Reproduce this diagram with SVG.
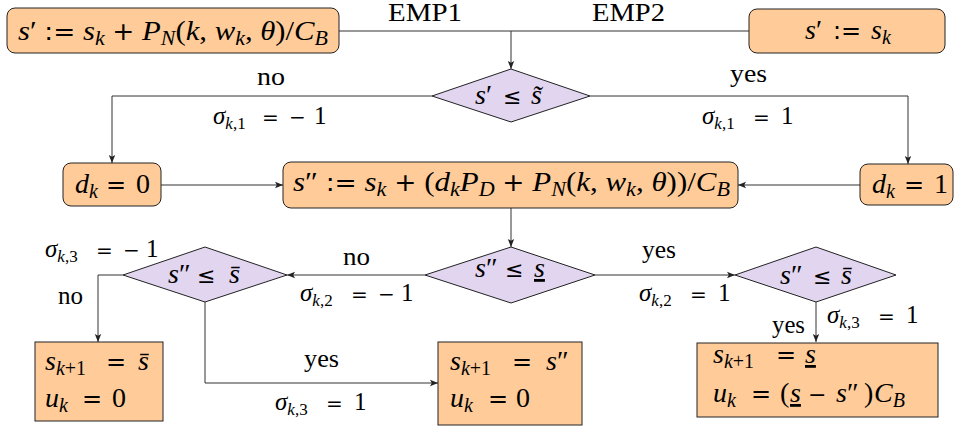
<svg xmlns="http://www.w3.org/2000/svg" width="955" height="427" viewBox="0 0 955 427">
<style>
text{font-family:"Liberation Serif","DejaVu Serif",serif;fill:#000}
.l{font-size:25px}
.m{font-size:28px}
.i{font-style:italic}
.s{font-size:20px}
.s2{font-size:17px}
.op{font-family:"DejaVu Sans",sans-serif;font-size:24px}
.opd{font-family:"DejaVu Sans",sans-serif;font-size:22px}
.opl{font-family:"DejaVu Sans",sans-serif;font-size:20px}
.box{fill:#ffcc99;stroke:#222;stroke-width:1}
.dia{fill:#e2d5f0;stroke:#222;stroke-width:1}
.c{fill:none;stroke:#333;stroke-width:1}
.ul{text-decoration:underline}
</style>
<defs>
<marker id="ah" viewBox="0 0 8 8" refX="8" refY="4" markerWidth="8" markerHeight="8" markerUnits="userSpaceOnUse" orient="auto">
<path d="M0,0.8 L8,4 L0,7.2 L1.8,4 Z" fill="#222"/>
</marker>
</defs>
<rect width="955" height="427" fill="#fff"/>

<g id="connectors">
<path class="c" d="M339,31 H749"/>
<path class="c" d="M511,31 V69" marker-end="url(#ah)"/>
<path class="c" d="M432,96 H112 V163" marker-end="url(#ah)"/>
<path class="c" d="M590,96 H908 V164" marker-end="url(#ah)"/>
<path class="c" d="M161,185 H283" marker-end="url(#ah)"/>
<path class="c" d="M860,185 H738" marker-end="url(#ah)"/>
<path class="c" d="M511,208 V247" marker-end="url(#ah)"/>
<path class="c" d="M425,275 H287" marker-end="url(#ah)"/>
<path class="c" d="M595,275 H735" marker-end="url(#ah)"/>
<path class="c" d="M123,275 H98 V342" marker-end="url(#ah)"/>
<path class="c" d="M205,302 V383 H438" marker-end="url(#ah)"/>
<path class="c" d="M816,302 V342" marker-end="url(#ah)"/>
</g>

<g id="labels">
<text class="l" x="388" y="21" textLength="74" lengthAdjust="spacingAndGlyphs">EMP1</text>
<text class="l" x="592" y="21" textLength="73" lengthAdjust="spacingAndGlyphs">EMP2</text>
<text class="l" x="257" y="85" textLength="28" lengthAdjust="spacingAndGlyphs">no</text>
<text class="l" x="730" y="82" textLength="37" lengthAdjust="spacingAndGlyphs">yes</text>
<text class="l" x="343" y="265" textLength="27" lengthAdjust="spacingAndGlyphs">no</text>
<text class="l" x="58" y="304" textLength="25" lengthAdjust="spacingAndGlyphs">no</text>
<text class="l" x="304" y="367" textLength="35" lengthAdjust="spacingAndGlyphs">yes</text>
<text class="l" x="642" y="258" textLength="34" lengthAdjust="spacingAndGlyphs">yes</text>
<text class="l" x="772" y="333" textLength="33" lengthAdjust="spacingAndGlyphs">yes</text>
<text class="l" x="213" y="124"><tspan class="i">σ</tspan><tspan class="s2" dy="5"><tspan class="i">k</tspan>,1</tspan><tspan class="opl" x="262" dy="-5">=</tspan><tspan class="opl" x="289">−</tspan><tspan x="314">1</tspan></text>
<text class="l" x="702" y="124"><tspan class="i">σ</tspan><tspan class="s2" dy="5"><tspan class="i">k</tspan>,1</tspan><tspan class="opl" x="753" dy="-5">=</tspan><tspan x="781">1</tspan></text>
<text class="l" x="300" y="301"><tspan class="i">σ</tspan><tspan class="s2" dy="5"><tspan class="i">k</tspan>,2</tspan><tspan class="opl" x="351" dy="-5">=</tspan><tspan class="opl" x="378">−</tspan><tspan x="401">1</tspan></text>
<text class="l" x="45" y="257"><tspan class="i">σ</tspan><tspan class="s2" dy="5"><tspan class="i">k</tspan>,3</tspan><tspan class="opl" x="96" dy="-5">=</tspan><tspan class="opl" x="123">−</tspan><tspan x="146">1</tspan></text>
<text class="l" x="275" y="410"><tspan class="i">σ</tspan><tspan class="s2" dy="5"><tspan class="i">k</tspan>,3</tspan><tspan class="opl" x="326" dy="-5">=</tspan><tspan x="354">1</tspan></text>
<text class="l" x="639" y="301"><tspan class="i">σ</tspan><tspan class="s2" dy="5"><tspan class="i">k</tspan>,2</tspan><tspan class="opl" x="690" dy="-5">=</tspan><tspan x="718">1</tspan></text>
<text class="l" x="827" y="323"><tspan class="i">σ</tspan><tspan class="s2" dy="5"><tspan class="i">k</tspan>,3</tspan><tspan class="opl" x="878" dy="-5">=</tspan><tspan x="906">1</tspan></text>
</g>

<g id="n-sprime-emp1">
<rect class="box" x="7" y="8" width="332" height="45" rx="8"/>
<text class="m" x="18" y="40" textLength="310" lengthAdjust="spacingAndGlyphs"><tspan class="i">s</tspan>′ <tspan class="op">:=</tspan> <tspan class="i">s</tspan><tspan class="i s" dy="5">k</tspan><tspan dy="-5"> </tspan><tspan class="op">+</tspan> <tspan class="i">P</tspan><tspan class="i s" dy="5">N</tspan><tspan dy="-5">(</tspan><tspan class="i">k</tspan>, <tspan class="i">w</tspan><tspan class="i s" dy="5">k</tspan><tspan dy="-5">, </tspan><tspan class="i">θ</tspan>)/<tspan class="i">C</tspan><tspan class="i s" dy="5">B</tspan></text>
</g>

<g id="n-sprime-emp2">
<rect class="box" x="749" y="9" width="196" height="44" rx="8"/>
<text class="m" x="805" y="39"><tspan class="i">s</tspan>′<tspan class="op" x="833">:=</tspan><tspan class="i" x="871">s</tspan><tspan class="i s" dy="5">k</tspan></text>
</g>

<g id="n-dec1">
<polygon class="dia" points="511,69 590,96 511,122 432,96"/>
<text class="m" x="475" y="104"><tspan class="i">s</tspan>′<tspan class="opd" x="503">≤</tspan><tspan class="i" x="531">s̃</tspan></text>
</g>

<g id="n-dk0">
<rect class="box" x="63" y="163" width="98" height="43" rx="8"/>
<text class="m" x="75" y="193"><tspan class="i">d</tspan><tspan class="i s" dy="5">k</tspan><tspan class="op" x="106" dy="-5">=</tspan><tspan x="136">0</tspan></text>
</g>

<g id="n-dk1">
<rect class="box" x="860" y="164" width="93" height="41" rx="8"/>
<text class="m" x="872" y="193"><tspan class="i">d</tspan><tspan class="i s" dy="5">k</tspan><tspan class="op" x="904" dy="-5">=</tspan><tspan x="934">1</tspan></text>
</g>

<g id="n-sdouble">
<rect class="box" x="283" y="162" width="455" height="46" rx="8"/>
<text class="m" x="293" y="191" textLength="437" lengthAdjust="spacingAndGlyphs"><tspan class="i">s</tspan>″ <tspan class="op">:=</tspan> <tspan class="i">s</tspan><tspan class="i s" dy="5">k</tspan><tspan dy="-5"> </tspan><tspan class="op">+</tspan> (<tspan class="i">d</tspan><tspan class="i s" dy="5">k</tspan><tspan class="i" dy="-5">P</tspan><tspan class="i s" dy="5">D</tspan><tspan dy="-5"> </tspan><tspan class="op">+</tspan> <tspan class="i">P</tspan><tspan class="i s" dy="5">N</tspan><tspan dy="-5">(</tspan><tspan class="i">k</tspan>, <tspan class="i">w</tspan><tspan class="i s" dy="5">k</tspan><tspan dy="-5">, </tspan><tspan class="i">θ</tspan>))/<tspan class="i">C</tspan><tspan class="i s" dy="5">B</tspan></text>
</g>

<g id="n-dec2">
<polygon class="dia" points="511,247 595,275 511,303 425,275"/>
<text class="m" x="475" y="277"><tspan class="i">s</tspan>″<tspan class="opd" x="505">≤</tspan><tspan class="i ul" x="534">s</tspan></text>
</g>

<g id="n-dec3">
<polygon class="dia" points="205,247 287,275 205,302 123,275"/>
<text class="m" x="168" y="283"><tspan class="i">s</tspan>″<tspan class="opd" x="197">≤</tspan><tspan class="i" x="229">s̄</tspan></text>
</g>

<g id="n-dec4">
<polygon class="dia" points="816,247 896,275 816,302 735,275"/>
<text class="m" x="780" y="284"><tspan class="i">s</tspan>″<tspan class="opd" x="813">≤</tspan><tspan class="i" x="841">s̄</tspan></text>
</g>

<g id="n-out-left">
<rect class="box" x="35" y="342" width="128" height="79"/>
<text class="m" x="45" y="370"><tspan class="i">s</tspan><tspan class="s" dy="5"><tspan class="i">k</tspan>+1</tspan><tspan class="op" x="106" dy="-5">=</tspan><tspan class="i" x="138">s̄</tspan></text>
<text class="m" x="45" y="407"><tspan class="i">u</tspan><tspan class="i s" dy="5">k</tspan><tspan class="op" x="82" dy="-5">=</tspan><tspan x="112">0</tspan></text>
</g>

<g id="n-out-mid">
<rect class="box" x="438" y="342" width="144" height="83"/>
<text class="m" x="450" y="370"><tspan class="i">s</tspan><tspan class="s" dy="5"><tspan class="i">k</tspan>+1</tspan><tspan class="op" x="512" dy="-5">=</tspan><tspan class="i" x="546">s</tspan>″</text>
<text class="m" x="450" y="407"><tspan class="i">u</tspan><tspan class="i s" dy="5">k</tspan><tspan class="op" x="488" dy="-5">=</tspan><tspan x="516">0</tspan></text>
</g>

<g id="n-out-right">
<rect class="box" x="697" y="343" width="241" height="74"/>
<text class="m" x="713" y="363"><tspan class="i">s</tspan><tspan class="s" dy="5"><tspan class="i">k</tspan>+1</tspan><tspan class="op" x="776" dy="-5">=</tspan><tspan class="i ul" x="805">s</tspan></text>
<text class="m" x="713" y="402"><tspan class="i">u</tspan><tspan class="i s" dy="5">k</tspan><tspan class="op" x="751" dy="-5">=</tspan><tspan x="780">(</tspan><tspan class="i ul" x="790">s</tspan><tspan class="opd" x="808">−</tspan><tspan class="i" x="836">s</tspan>″<tspan x="864">)</tspan><tspan class="i" x="874">C</tspan><tspan class="i s" dy="5">B</tspan></text>
</g>
</svg>
